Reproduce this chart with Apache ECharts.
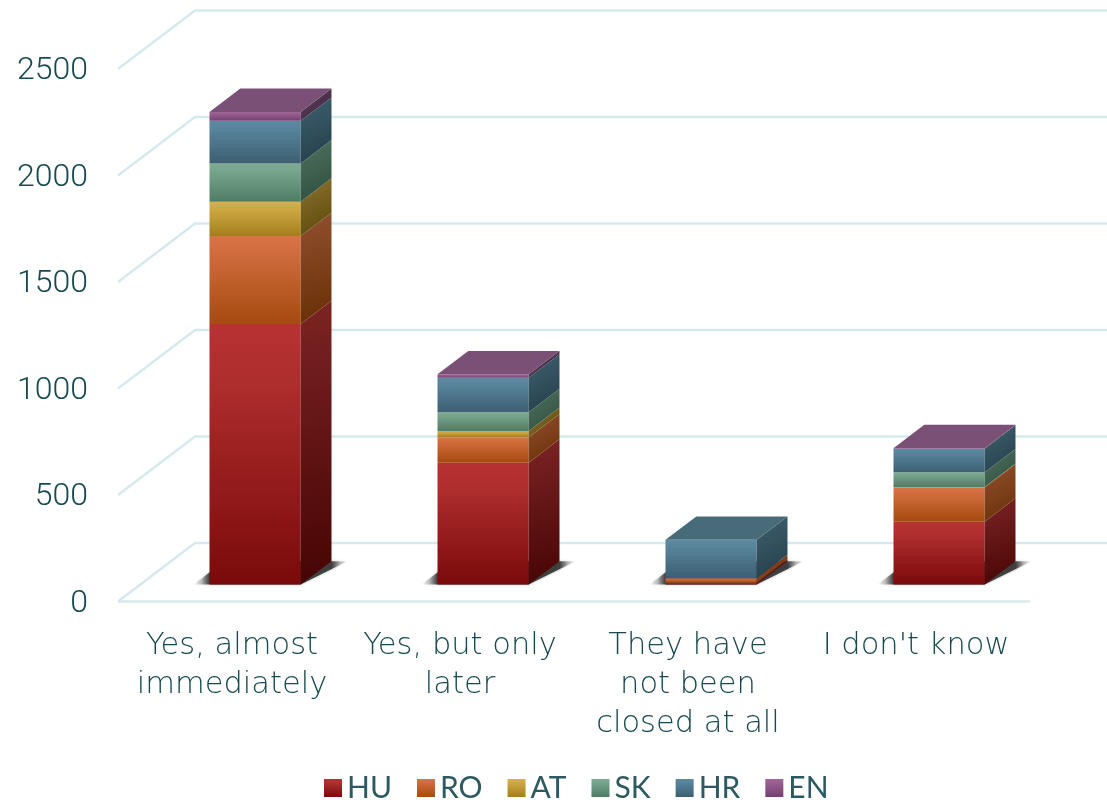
<!DOCTYPE html>
<html>
<head>
<meta charset="utf-8">
<style>html,body{margin:0;padding:0;background:#fff}#c{width:1107px;height:802px}</style>
<script src="https://cdn.jsdelivr.net/npm/echarts@6/dist/echarts.min.js"></script>
</head>
<body>
<div id="c"></div>
<script>
const categories = ["Yes, almost\nimmediately", "Yes, but only\nlater", "They have\nnot been\nclosed at all", "I don't know"];
const yTicks = [0, 500, 1000, 1500, 2000, 2500];
const HU = [1223, 572, 9, 295];
const RO = [413, 119, 21, 160];
const AT = [161, 30, 0, 3];
const SK = [180, 88, 0, 69];
const HR = [200, 162, 180, 111];
const EN = [42, 16, 0, 2];

const stackNames = ["HU", "RO", "AT", "SK", "HR", "EN"];
const stackValues = [HU, RO, AT, SK, HR, EN];
const palette = [
  { f: ["#b83232", "#b02e2e", "#7a0a0a"], s: ["#7c2424", "#470404"], t: "#8e2a2a" },
  { f: ["#d97446", "#d06c3c", "#a44a10"], s: ["#925030", "#672f04"], t: "#b9623a" },
  { f: ["#d6b04f", "#cfa843", "#a37f1c"], s: ["#8c7232", "#5b4806"], t: "#a88a3a" },
  { f: ["#7dab93", "#76a48c", "#4f7c65"], s: ["#527261", "#2c4d3d"], t: "#5f8572" },
  { f: ["#5d8aa2", "#57839b", "#3d5f72"], s: ["#3f606f", "#243d49"], t: "#486b7a" },
  { f: ["#a0659a", "#98608f", "#753f72"], s: ["#5f3a5c", "#3c2a3e"], t: "#7a5076" }
];

const DEPTH_X = 77, DEPTH_Y = 58.5;
const BAR_FRONT = 0.3, BAR_FRONT_Y = 0.29, BAR_DEPTH = 0.4, BAR_WIDTH = 0.4;
const GRID_COLOR = "#d6eaee";
const TEXT_COLOR = "#2c5a60";
const THIN_TEXT_COLOR = "#174a50";

function grad(x0, y0, x1, y1, cols) {
  return new echarts.graphic.LinearGradient(x0, y0, x1, y1,
    cols.map((c, i) => ({ offset: cols.length === 3 ? [0, 0.2, 1][i] : i / (cols.length - 1), color: c })));
}

function barGeom(api, cat) {
  const c = api.coord([cat, 0]);
  const band = api.size([1, 0])[0];
  const w = band * BAR_WIDTH;
  const left = c[0] - w / 2 + DEPTH_X * BAR_FRONT;
  return { left, right: left + w, dx: DEPTH_X * BAR_DEPTH, dy: DEPTH_Y * BAR_DEPTH, lift: DEPTH_Y * BAR_FRONT_Y };
}

function gridRender(params, api) {
  const v = api.value(0);
  const cs = params.coordSys;
  const y = api.coord([0, v])[1];
  const x0 = cs.x, x1 = cs.x + DEPTH_X, x2 = cs.x + cs.width + DEPTH_X;
  const style = { stroke: GRID_COLOR, lineWidth: 2.5, fill: null };
  const children = [{
    type: "polyline",
    shape: { points: [[x0, y], [x1, y - DEPTH_Y], [x2, y - DEPTH_Y]] },
    style
  }];
  if (v === 0) {
    children.push({ type: "line", shape: { x1: x0, y1: y, x2: cs.x + cs.width, y2: y }, style });
  }
  return { type: "group", children };
}

function shadowRender(params, api) {
  const g = barGeom(api, api.value(0));
  const base = api.coord([0, 0])[1] - g.lift;
  const ext = 16, L = g.left - ext, R = g.right + g.dx + ext, W = R - L;
  return {
    type: "polygon",
    shape: { points: [[L, base], [L + g.dx, base - g.dy], [R, base - g.dy], [g.right, base]] },
    style: {
      shadowBlur: 3,
      shadowColor: "rgba(30,30,30,0.35)",
      fill: new echarts.graphic.LinearGradient(0, 0, 1, 0, [
        { offset: 0, color: "rgba(30,30,30,0)" },
        { offset: 0.5 * ext / W, color: "rgba(30,30,30,0.25)" },
        { offset: ext / W, color: "rgba(30,30,30,0.8)" },
        { offset: 1 - ext / W, color: "rgba(30,30,30,0.8)" },
        { offset: 1 - 0.5 * ext / W, color: "rgba(30,30,30,0.3)" },
        { offset: 1, color: "rgba(30,30,30,0)" }
      ])
    }
  };
}

function segmentRender(si) {
  return function (params, api) {
    const cat = api.value(0);
    const val = api.value(1);
    if (!val) return { type: "group", children: [] };
    let below = 0;
    for (let k = 0; k < si; k++) below += stackValues[k][cat];
    let above = 0;
    for (let k = si + 1; k < stackValues.length; k++) above += stackValues[k][cat];
    const g = barGeom(api, cat);
    const y0 = api.coord([cat, below])[1] - g.lift;
    const y1 = api.coord([cat, below + val])[1] - g.lift;
    const p = palette[si];
    const children = [
      { type: "rect", shape: { x: g.left, y: y1, width: g.right - g.left, height: y0 - y1 },
        style: { fill: grad(0, 0, 0, 1, p.f) } },
      { type: "polygon",
        shape: { points: [[g.right, y0], [g.right, y1], [g.right + g.dx, y1 - g.dy], [g.right + g.dx, y0 - g.dy]] },
        style: { fill: grad(0, 0, 1, 1, p.s) } }
    ];
    if (above === 0) {
      children.push({ type: "polygon",
        shape: { points: [[g.left, y1], [g.left + g.dx, y1 - g.dy], [g.right + g.dx, y1 - g.dy], [g.right, y1]] },
        style: { fill: p.t } });
    }
    return { type: "group", children };
  };
}

const series = [
  { type: "custom", name: "_grid", silent: true, z: 1, renderItem: gridRender,
    data: yTicks.map(v => [v]), encode: { y: 0 } },
  { type: "custom", name: "_shadow", silent: true, z: 2, renderItem: shadowRender,
    data: categories.map((c, i) => [i, 0]), encode: { x: 0, y: 1 } }
];
stackNames.forEach((name, si) => {
  series.push({
    type: "custom", name, z: 3 + si, renderItem: segmentRender(si),
    itemStyle: { color: grad(0, 0, 0, 1, palette[si].f) },
    data: stackValues[si].map((v, i) => [i, v]),
    encode: { x: 0, y: 1 }
  });
});

const chart = echarts.init(document.getElementById("c"), null, { renderer: "canvas" });
chart.setOption({
  animation: false,
  backgroundColor: "#ffffff",
  grid: { left: 118, right: 77, top: 69, bottom: 200.5, containLabel: false },
  xAxis: {
    type: "category", data: categories,
    axisLine: { show: false }, axisTick: { show: false }, splitLine: { show: false },
    axisLabel: { color: THIN_TEXT_COLOR, fontFamily: "DejaVu Sans", fontWeight: 200, fontSize: 30.5, lineHeight: 39, margin: 25, interval: 0 }
  },
  yAxis: {
    type: "value", min: 0, max: 2500, interval: 500,
    axisLine: { show: false }, axisTick: { show: false }, splitLine: { show: false },
    axisLabel: { color: THIN_TEXT_COLOR, fontFamily: "Roboto", fontWeight: 300, fontSize: 32, margin: 30,
      verticalAlign: "top", lineHeight: 4,
      formatter: v => String(v) }
  },
  legend: {
    data: stackNames.map(name => ({ name, icon: "rect" })),
    left: 324, top: 773, padding: 0, itemWidth: 18, itemHeight: 18, itemGap: 25,
    textStyle: { color: TEXT_COLOR, fontFamily: "Lato", fontSize: 30 },
    selectedMode: false
  },
  series
});
</script>
</body>
</html>
